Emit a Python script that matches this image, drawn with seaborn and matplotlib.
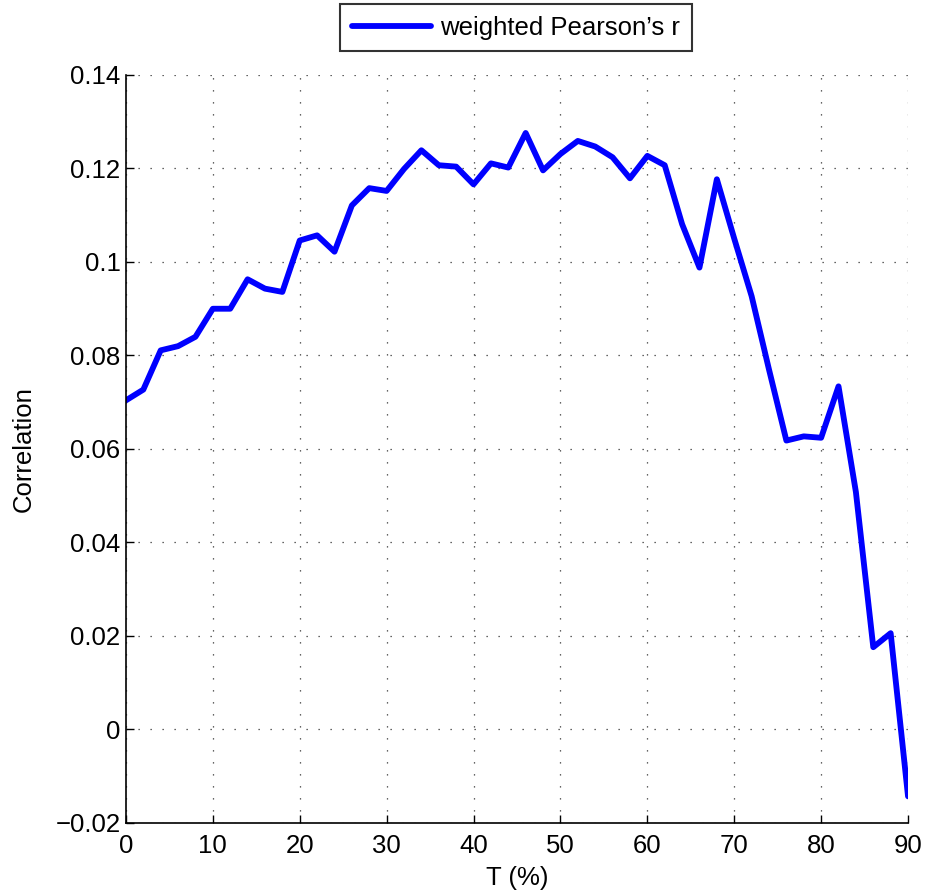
import numpy as np
import pandas as pd
import matplotlib
matplotlib.use("Agg")
import matplotlib.pyplot as plt
import matplotlib.ticker as mticker
import seaborn as sns

# T (%) values and the weighted Pearson correlation
t_pct = [0, 2, 4, 6, 8, 10, 12, 14, 16, 18, 20, 22, 24, 26, 28, 30, 32, 34, 36, 38,
         40, 42, 44, 46, 48, 50, 52, 54, 56, 58, 60, 62, 64, 66, 68, 70, 72, 74, 76, 78,
         80, 82, 84, 86, 88, 90]
corr = [0.0704, 0.0727, 0.0811, 0.0820, 0.0840, 0.0900, 0.0900, 0.0963, 0.0943, 0.0936,
        0.1046, 0.1057, 0.1022, 0.1121, 0.1158, 0.1152, 0.1199, 0.1239, 0.1207, 0.1204,
        0.1166, 0.1211, 0.1202, 0.1276, 0.1196, 0.1231, 0.1259, 0.1247, 0.1224, 0.1179,
        0.1227, 0.1207, 0.1081, 0.0988, 0.1177, 0.1050, 0.0927, 0.0770, 0.0618, 0.0627,
        0.0624, 0.0734, 0.0508, 0.0176, 0.0206, -0.0143]
series_name = "weighted Pearson\u2019s r"

df = pd.DataFrame({"T": t_pct, "corr": corr})

sns.set_style("white")
plt.rcParams['font.family'] = ['Liberation Sans', 'DejaVu Sans']
plt.rcParams['axes.unicode_minus'] = True
plt.rcParams['text.color'] = 'black'
plt.rcParams['axes.labelcolor'] = 'black'

fs = 18.5

fig = plt.figure(figsize=(9.26, 8.96), dpi=100)
ax = fig.add_axes([0.136, 0.0815, 0.8446, 0.8348])

sns.lineplot(data=df, x="T", y="corr", ax=ax, color="#0000ff", linewidth=4.2,
             label=series_name, legend=False)

ax.set_xlim(0, 90)
ax.set_ylim(-0.02, 0.14)
ax.set_xticks(np.arange(0, 91, 10))
ax.set_yticks(np.arange(-0.02, 0.141, 0.02))
ax.yaxis.set_major_formatter(mticker.FuncFormatter(
    lambda v, p: ("%g" % round(v, 4)).replace("-", "\u2212")))

ax.grid(True, linestyle=(0, (1, 8.6)), color="#333333", linewidth=0.9)
ax.tick_params(direction="in", length=6, width=1, labelsize=fs, colors="black",
               left=True, bottom=True)
ax.tick_params(axis="x", pad=8)
ax.tick_params(axis="y", pad=4)
for s in ["top", "right"]:
    ax.spines[s].set_visible(False)
for s in ["left", "bottom"]:
    ax.spines[s].set_color("black")
    ax.spines[s].set_linewidth(1.2)

ax.set_xlabel("T (%)", fontsize=fs, labelpad=6)
ax.set_ylabel("Correlation", fontsize=fs, labelpad=14)

handles, labels = ax.get_legend_handles_labels()
leg = fig.legend(handles, labels, loc="lower center", bbox_to_anchor=(0.557, 0.943),
                 fontsize=fs, frameon=True, fancybox=False, handlelength=3.1,
                 borderpad=0.45, handletextpad=0.35, borderaxespad=0)
leg.get_frame().set_edgecolor("black")
leg.get_frame().set_linewidth(1.5)

fig.savefig("out.png", dpi=100)
